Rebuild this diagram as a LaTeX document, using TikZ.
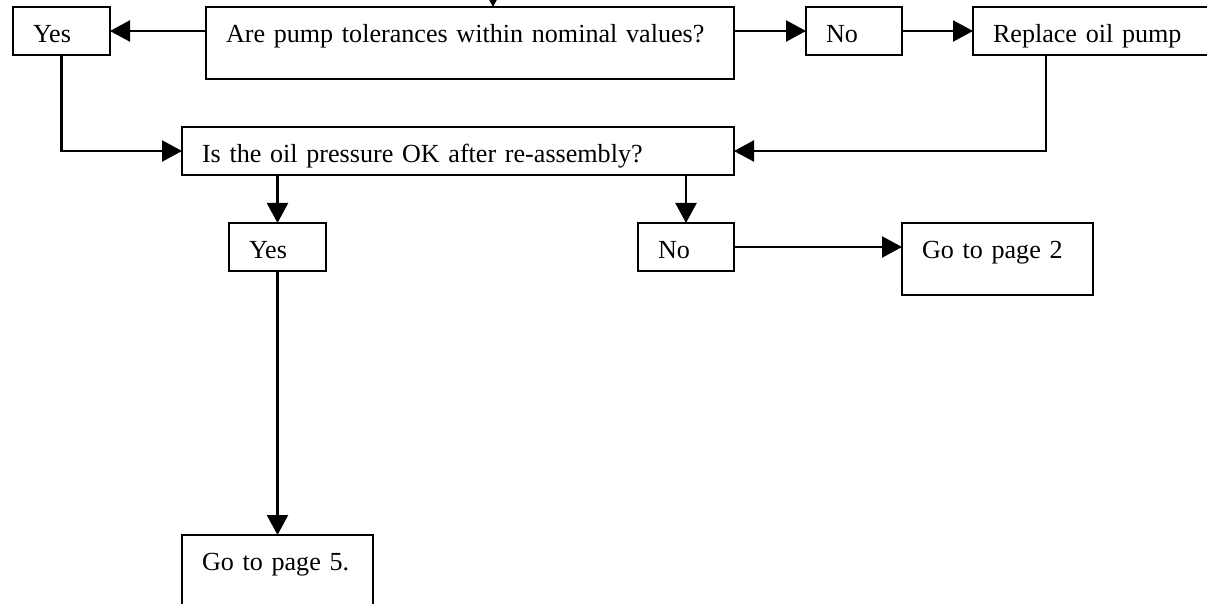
\documentclass[tikz,border=0pt]{standalone}
\usepackage{fontspec}
\setmainfont{Liberation Serif}
\usetikzlibrary{arrows.meta,calc}
\begin{document}
\begin{tikzpicture}[x=1pt,y=-1pt,
  box/.style={draw, line width=2.3pt, rectangle, anchor=north west,
    inner xsep=20pt, inner ysep=0pt, outer sep=0pt, align=left,
    text height=35.5pt, font=\fontsize{26.1}{30}\selectfont},
  short/.style={text depth=12.5pt},
  tall/.style={text depth=36.5pt},
  conn/.style={line width=2.3pt, -{Triangle[length=20pt,width=21pt]}}]
\clip (0,0) rectangle (1207,604);
% top row
\node[box, short, text width=57pt]  (yes1) at (13,7)  {Yes};
\node[box, tall,  text width=488pt] (q1)   at (206,7) {Are pump tolerances within nominal values?};
\node[box, short, text width=56pt]  (no1)  at (806,7) {No};
\node[box, short, text width=240pt] (rep)  at (973,7) {Replace oil pump};
% second question
\node[box, short, text width=512pt] (q2)   at (182,127) {Is the oil pressure OK after re-assembly?};
% third row
\node[box, short, text width=57pt]  (yes2) at (229,223) {Yes};
\node[box, short, text width=56pt]  (no2)  at (638,223) {No};
\node[box, tall,  text width=151pt] (go2)  at (902,223) {Go to page 2};
% bottom
\node[box, text depth=54.5pt, text width=151pt] (go5) at (182,535) {Go to page 5.};
% connectors
\coordinate (topin) at (493,-30);
\draw[conn] (topin) -- (topin |- q1.north);
\draw[conn] (yes1.east -| q1.west) -- (yes1.east);
\draw[conn] (no1.west -| q1.east) -- (no1.west);
\draw[conn] (no1.east) -- (no1.east -| rep.west);
\draw[conn] (yes1.south) |- (q2.west);
\coordinate (rp) at ($(rep.south west)+(73,0)$);
\draw[conn] (rp) |- (q2.east);
\draw[conn] (yes2.north |- q2.south) -- (yes2.north);
\draw[conn] (no2.north |- q2.south) -- (no2.north);
\draw[conn] (no2.east) -- (no2.east -| go2.west);
\draw[conn] (yes2.south) -- (yes2.south |- go5.north);
\end{tikzpicture}
\end{document}
